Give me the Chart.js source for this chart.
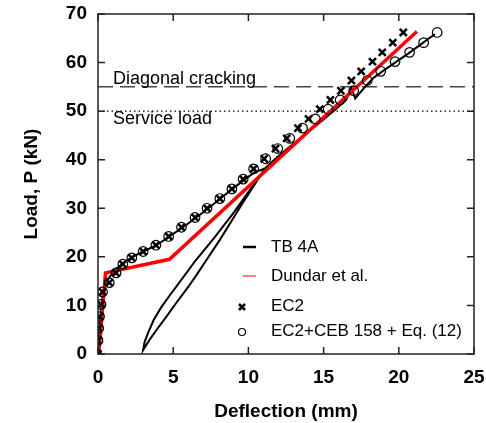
<!DOCTYPE html>
<html>
<head>
<meta charset="utf-8">
<script src="https://cdn.jsdelivr.net/npm/chart.js@4.4.1/dist/chart.umd.min.js"></script>
<style>
  html, body { margin: 0; padding: 0; background: #fff; }
  #wrap { width: 486px; height: 423px; }
</style>
</head>
<body>
<div id="wrap"><canvas id="chart" width="486" height="423"></canvas></div>
<script>
// TB 4A test curve (load, unload to ~0, reload, continue)
const tbX = [0, 0.05, 0.1, 0.2, 0.3, 0.5, 0.8, 1.2, 1.7, 2.3, 3.0, 3.9, 4.7, 5.6, 6.5, 7.3, 8.1, 8.9, 9.7, 10.4, 11.1,
  9.6, 8.1, 7.2, 6.6, 6.0, 5.2, 4.5, 3.9, 3.4, 3.0,
  3.1, 3.35, 3.7, 4.2, 4.8, 5.6, 6.5, 7.7, 9.0, 10.1, 11.1,
  11.8, 12.6, 13.4, 14.2, 15.0, 15.8, 16.5, 16.85, 17.1, 17.7, 18.3, 19.0, 19.8, 20.6, 21.4, 22.1, 22.4]
const tbY = [0, 3, 6, 9, 12, 14.5, 16, 17.5, 18.8, 20, 21.1, 22.4, 24.1, 26, 28, 29.9, 31.9, 33.9, 35.8, 37.4, 38.2,
  31, 23.5, 19.3, 16.5, 13.8, 10.5, 7.5, 5.0, 2.8, 0.8,
  2.5, 4.5, 7.0, 9.6, 12.2, 15.5, 19.3, 23.8, 29, 33.8, 38.2,
  40.2, 42.3, 44.3, 46.3, 48.3, 50.4, 52.3, 54.8, 52.6, 54.8, 56.8, 58.4, 60.1, 61.8, 63.6, 65.2, 65.8]

// Dundar et al. model
const dundarX = [0.05, 0.5, 4.75, 21.2]
const dundarY = [0, 16.7, 19.5, 66.4]

// EC2 predictions
const ec2X = [0, 0, 0.05, 0.1, 0.2, 0.3, 0.75, 1.2, 1.65, 2.25, 3.0, 3.85, 4.7, 5.55, 6.45, 7.25, 8.1, 8.9, 9.65, 10.35,
  11.05, 11.8, 12.55, 13.3, 14.0, 14.75, 15.45, 16.15, 16.85, 17.5, 18.25, 18.9, 19.6, 20.3]
const ec2Y = [0, 2.8, 5.3, 7.7, 10.2, 12.8, 14.7, 16.7, 18.5, 19.8, 21.1, 22.4, 24.2, 26.1, 28.1, 30.0, 32.0, 34.0, 36.0, 38.1,
  40.2, 42.3, 44.4, 46.5, 48.4, 50.4, 52.3, 54.2, 56.3, 58.2, 60.2, 62.1, 64.1, 66.2]

// EC2 + CEB 158 + Eq. (12) predictions
const cebX = [-0.1, 0, 0.05, 0.1, 0.2, 0.3, 0.75, 1.2, 1.65, 2.25, 3.0, 3.85, 4.7, 5.55, 6.45, 7.25, 8.1, 8.9, 9.65, 10.35,
  11.15, 11.95, 12.75, 13.6, 14.45, 15.3, 16.1, 17.0, 17.9, 18.8, 19.75, 20.72, 21.65, 22.55]
const cebY = ec2Y.slice()

const crackLoad = 55
const serviceLoad = 50

const xTicks = [0, 5, 10, 15, 20, 25]
const yTicks = [0, 10, 20, 30, 40, 50, 60, 70]

const pts = (xs, ys) => xs.map((x, i) => ({ x: x, y: ys[i] }))

const FONT = "'Liberation Sans', Arial, Helvetica, sans-serif"

// box, inward ticks, text labels and legend
const decor = {
  id: 'decor',
  afterDatasetsDraw(chart) {
    const { ctx, chartArea: a, scales: { x, y } } = chart
    ctx.save()
    ctx.strokeStyle = '#222'
    ctx.lineWidth = 1.5
    ctx.strokeRect(a.left, a.top, a.right - a.left, a.bottom - a.top)
    ctx.beginPath()
    xTicks.forEach(v => {
      const px = x.getPixelForValue(v)
      ctx.moveTo(px, a.bottom); ctx.lineTo(px, a.bottom - 7)
      ctx.moveTo(px, a.top); ctx.lineTo(px, a.top + 7)
    })
    yTicks.forEach(v => {
      const py = y.getPixelForValue(v)
      ctx.moveTo(a.left, py); ctx.lineTo(a.left + 7, py)
      ctx.moveTo(a.right, py); ctx.lineTo(a.right - 7, py)
    })
    ctx.stroke()

    ctx.fillStyle = '#000'
    ctx.font = '18px ' + FONT
    ctx.textBaseline = 'middle'
    ctx.textAlign = 'left'
    ctx.fillText('Diagonal cracking', x.getPixelForValue(1), y.getPixelForValue(crackLoad) - 8)
    ctx.fillText('Service load', x.getPixelForValue(1), y.getPixelForValue(serviceLoad) + 8)

    // legend
    const lx = 243, tx = 271
    ctx.font = '17px ' + FONT
    ctx.strokeStyle = '#000'
    ctx.lineWidth = 2.5
    ctx.beginPath(); ctx.moveTo(lx, 247); ctx.lineTo(lx + 13, 247); ctx.stroke()
    ctx.fillText('TB 4A', tx, 247)
    ctx.strokeStyle = '#ff0000'
    ctx.lineWidth = 1
    ctx.beginPath(); ctx.moveTo(lx, 276); ctx.lineTo(lx + 13, 276); ctx.stroke()
    ctx.fillText('Dundar et al.', tx, 276)
    ctx.strokeStyle = '#000'
    ctx.lineWidth = 2.5
    ctx.beginPath()
    ctx.moveTo(239, 304); ctx.lineTo(245, 310)
    ctx.moveTo(245, 304); ctx.lineTo(239, 310)
    ctx.stroke()
    ctx.fillText('EC2', tx, 306)
    ctx.lineWidth = 1.2
    ctx.beginPath(); ctx.arc(242, 332, 3.5, 0, Math.PI * 2); ctx.stroke()
    ctx.fillText('EC2+CEB 158 + Eq. (12)', tx, 331)
    ctx.restore()
  }
}

new Chart(document.getElementById('chart'), {
  type: 'scatter',
  data: {
    datasets: [
      {
        label: 'EC2',
        data: pts(ec2X, ec2Y),
        showLine: false,
        pointStyle: 'crossRot',
        pointRadius: 5,
        borderColor: '#000',
        borderWidth: 2.5,
        order: 1
      },
      {
        label: 'EC2+CEB 158 + Eq. (12)',
        data: pts(cebX, cebY),
        showLine: false,
        pointStyle: 'circle',
        pointRadius: 4.8,
        borderColor: '#000',
        backgroundColor: 'rgba(0,0,0,0)',
        borderWidth: 1.2,
        order: 2
      },
      {
        label: 'Dundar et al.',
        data: pts(dundarX, dundarY),
        showLine: true,
        borderColor: '#ff0000',
        borderWidth: 3.5,
        pointRadius: 0,
        order: 3
      },
      {
        label: 'TB 4A',
        data: pts(tbX, tbY),
        showLine: true,
        borderColor: '#000',
        borderWidth: 2,
        pointRadius: 0,
        order: 4
      },
      {
        label: 'Diagonal cracking',
        data: pts([0, 25], [crackLoad, crackLoad]),
        showLine: true,
        borderColor: '#444',
        borderWidth: 1.5,
        borderDash: [15, 7],
        pointRadius: 0,
        order: 5
      },
      {
        label: 'Service load',
        data: pts([0, 25], [serviceLoad, serviceLoad]),
        showLine: true,
        borderColor: '#000',
        borderWidth: 1.2,
        borderDash: [1.5, 3],
        pointRadius: 0,
        order: 6
      }
    ]
  },
  options: {
    responsive: false,
    animation: false,
    layout: { padding: { left: 0, top: 14, right: 12, bottom: 0 } },
    plugins: { legend: { display: false }, tooltip: { enabled: false } },
    scales: {
      x: {
        type: 'linear',
        min: 0,
        max: 25,
        afterFit: s => { s.height = 69; s.paddingLeft = 0; s.paddingRight = 0 },
        afterBuildTicks: s => { s.ticks = xTicks.map(v => ({ value: v })) },
        grid: { display: false, drawTicks: false },
        border: { display: false },
        ticks: { padding: 12, maxRotation: 0, color: '#000', font: { family: FONT, size: 19, weight: 'bold' } },
        title: { display: true, text: 'Deflection (mm)', color: '#000', padding: { top: 0, bottom: 0 }, font: { family: FONT, size: 19, weight: 'bold' } }
      },
      y: {
        type: 'linear',
        min: 0,
        max: 70,
        afterFit: s => { s.width = 98; s.paddingTop = 0; s.paddingBottom = 0 },
        afterBuildTicks: s => { s.ticks = yTicks.map(v => ({ value: v })) },
        grid: { display: false, drawTicks: false },
        border: { display: false },
        ticks: { padding: 11, color: '#000', font: { family: FONT, size: 19, weight: 'bold' } },
        title: { display: true, text: 'Load, P (kN)', color: '#000', padding: { top: 20, bottom: 0 }, font: { family: FONT, size: 19, weight: 'bold' } }
      }
    }
  },
  plugins: [decor]
})
</script>
</body>
</html>
